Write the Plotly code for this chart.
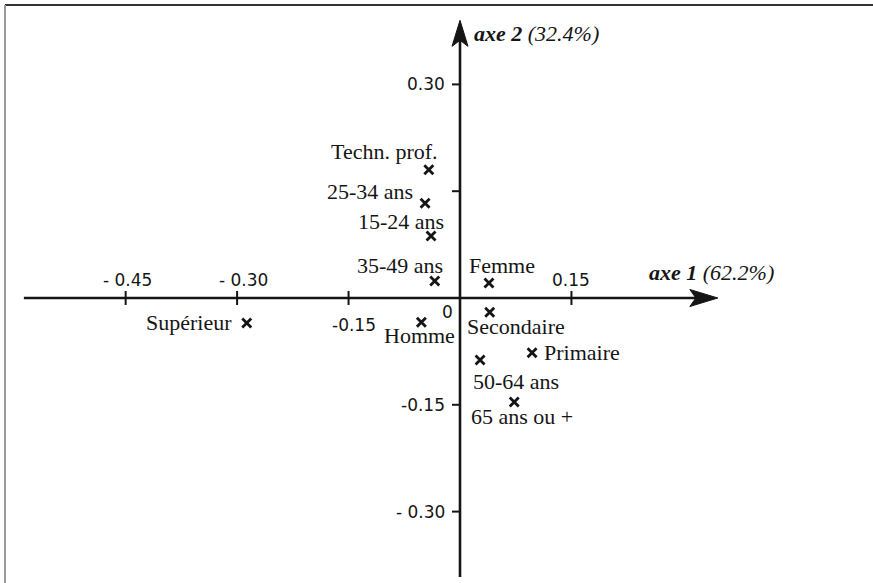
import plotly.graph_objects as go

# --- data: correspondence analysis coordinates (axis 1, axis 2) ---
labels = ["Techn. prof.", "25-34 ans", "15-24 ans", "35-49 ans", "Femme",
          "Secondaire", "Homme", "Primaire", "50-64 ans", "65 ans ou +", "Supérieur"]
axe1 = [-0.042, -0.047, -0.039, -0.034, 0.039, 0.040, -0.052, 0.097, 0.027, 0.073, -0.287]
axe2 = [0.180, 0.133, 0.087, 0.024, 0.021, -0.020, -0.034, -0.077, -0.087, -0.146, -0.035]

x_tick_values = [-0.45, -0.30, -0.15, 0.15]
x_tick_labels = ["- 0.45", "- 0.30", "-0.15", "0.15"]
y_tick_values = [0.30, 0.15, -0.15, -0.30]
y_tick_labels = ["0.30", "", "-0.15", "- 0.30"]

axis1_title = "<b><i>axe 1</i></b><i> (62.2%)</i>"
axis2_title = "<b><i>axe 2</i></b><i> (32.4%)</i>"

# --- layout helpers (pixel offsets of each label relative to its point) ---
label_style = {
    "Techn. prof.": dict(xanchor="right", xshift=11, yshift=18),
    "25-34 ans": dict(xanchor="right", xshift=-10, yshift=12),
    "15-24 ans": dict(xanchor="right", xshift=15, yshift=15),
    "35-49 ans": dict(xanchor="right", xshift=10, yshift=15),
    "Femme": dict(xanchor="left", xshift=-22, yshift=18),
    "Secondaire": dict(xanchor="left", xshift=-25, yshift=-14),
    "Homme": dict(xanchor="center", xshift=-2, yshift=-13),
    "Primaire": dict(xanchor="left", xshift=10, yshift=0),
    "50-64 ans": dict(xanchor="left", xshift=-9, yshift=-22),
    "65 ans ou +": dict(xanchor="left", xshift=-45, yshift=-15),
    "Supérieur": dict(xanchor="right", xshift=-13, yshift=0),
}
x_tick_label_shift = {-0.45: (2, 18), -0.30: (6, 18), -0.15: (5, -27), 0.15: (0, 18)}

W, H = 873, 583
ox, oy = 460, 298          # pixel position of the origin
sx, sy = 743.0, 712.0      # pixels per unit
x_range = [-ox / sx, (W - ox) / sx]
y_range = [-(H - oy) / sy, oy / sy]

x_axis_start, x_axis_end = -0.587, 0.347
y_axis_start, y_axis_end = -0.392, 0.390

ink = "#151515"
serif = "Liberation Serif, Times New Roman, serif"
sans = "DejaVu Sans, sans-serif"

fig = go.Figure()

fig.add_trace(go.Scatter(
    x=axe1, y=axe2, mode="markers",
    marker=dict(symbol="x-thin", size=9, color=ink, line=dict(color=ink, width=2.8)),
    hoverinfo="skip", showlegend=False,
))

shapes = []
# axes
shapes.append(dict(type="line", xref="x", yref="y", x0=x_axis_start, x1=x_axis_end - 0.02,
                   y0=0, y1=0, line=dict(color=ink, width=2.6)))
shapes.append(dict(type="line", xref="x", yref="y", x0=0, x1=0, y0=y_axis_start,
                   y1=y_axis_end - 0.02, line=dict(color=ink, width=2.6)))
# arrowheads (pixel-sized, anchored at the axis tips)
shapes.append(dict(type="path", xref="x", yref="y", xsizemode="pixel", ysizemode="pixel",
                   xanchor=x_axis_end, yanchor=0,
                   path="M0,0 L-28,8.5 L-22,0 L-28,-8.5 Z",
                   fillcolor=ink, line=dict(color=ink, width=1)))
shapes.append(dict(type="path", xref="x", yref="y", xsizemode="pixel", ysizemode="pixel",
                   xanchor=0, yanchor=y_axis_end,
                   path="M0,0 L-8,-26 L0,-20 L8,-26 Z",
                   fillcolor=ink, line=dict(color=ink, width=1)))
# tick marks
for v in x_tick_values:
    shapes.append(dict(type="line", xref="x", yref="y", xsizemode="pixel", ysizemode="pixel",
                       xanchor=v, yanchor=0, x0=0, x1=0, y0=-7, y1=7,
                       line=dict(color=ink, width=2)))
for v in y_tick_values:
    shapes.append(dict(type="line", xref="x", yref="y", xsizemode="pixel", ysizemode="pixel",
                       xanchor=0, yanchor=v, x0=-8, x1=0, y0=0, y1=0,
                       line=dict(color=ink, width=2)))
# frame (top and left edges)
shapes.append(dict(type="line", xref="paper", yref="paper", x0=5 / W, x1=1,
                   y0=1 - 5 / H, y1=1 - 5 / H, line=dict(color="#333333", width=2)))
shapes.append(dict(type="line", xref="paper", yref="paper", x0=5 / W, x1=5 / W,
                   y0=0, y1=1 - 5 / H, line=dict(color="#9a9a9a", width=2)))

annotations = []
for name, xv, yv in zip(labels, axe1, axe2):
    st = label_style[name]
    annotations.append(dict(x=xv, y=yv, xref="x", yref="y", text=name, showarrow=False,
                            yanchor="middle", font=dict(family=serif, size=22, color=ink), **st))

for v, t in zip(x_tick_values, x_tick_labels):
    dx, dy = x_tick_label_shift[v]
    annotations.append(dict(x=v, y=0, xref="x", yref="y", text=t, showarrow=False,
                            xanchor="center", yanchor="middle", xshift=dx, yshift=dy,
                            font=dict(family=sans, size=17, color=ink)))
for v, t in zip(y_tick_values, y_tick_labels):
    if not t:
        continue
    annotations.append(dict(x=0, y=v, xref="x", yref="y", text=t, showarrow=False,
                            xanchor="right", yanchor="middle", xshift=-13, yshift=0,
                            font=dict(family=sans, size=17, color=ink)))
annotations.append(dict(x=0, y=0, xref="x", yref="y", text="0", showarrow=False,
                        xanchor="center", yanchor="middle", xshift=-13, yshift=-14,
                        font=dict(family=sans, size=17, color=ink)))

annotations.append(dict(x=x_axis_end, y=0, xref="x", yref="y", text=axis1_title, showarrow=False,
                        xanchor="right", yanchor="middle", xshift=58, yshift=26,
                        font=dict(family=serif, size=22, color=ink)))
annotations.append(dict(x=0, y=y_axis_end, xref="x", yref="y", text=axis2_title, showarrow=False,
                        xanchor="left", yanchor="middle", xshift=12, yshift=-13,
                        font=dict(family=serif, size=22, color=ink)))

fig.update_layout(
    width=W, height=H,
    margin=dict(l=0, r=0, t=0, b=0),
    paper_bgcolor="white", plot_bgcolor="white",
    xaxis=dict(range=x_range, visible=False, fixedrange=True),
    yaxis=dict(range=y_range, visible=False, fixedrange=True),
    shapes=shapes, annotations=annotations,
    showlegend=False,
)

fig.write_html("out.html")
